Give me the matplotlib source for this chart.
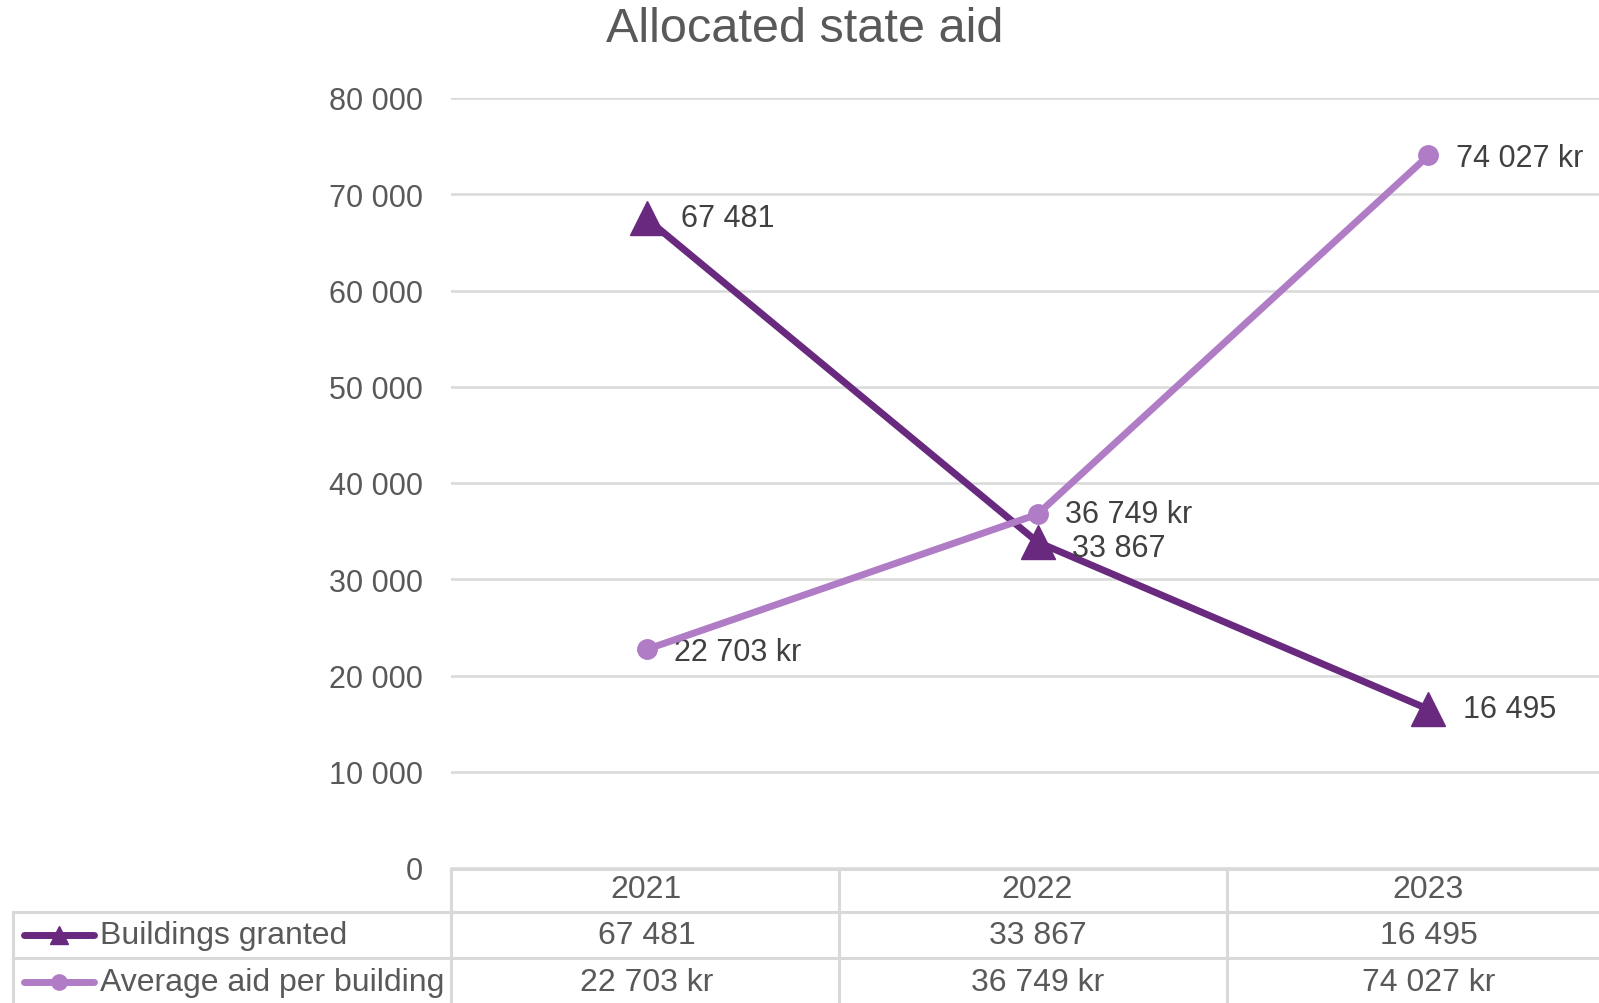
import matplotlib
matplotlib.use("Agg")
import matplotlib.pyplot as plt
import matplotlib.transforms as mtransforms
from matplotlib.lines import Line2D

# === Data ===
years = ["2021", "2022", "2023"]
buildings_granted = [67481, 33867, 16495]
avg_aid = [22703, 36749, 74027]
series_names = ["Buildings granted", "Average aid per building"]
y_ticks = [0, 10000, 20000, 30000, 40000, 50000, 60000, 70000, 80000]

# === Style ===
DARK = "#68297f"
LIGHT = "#b07cc6"
GRID = "#d9d9d9"
TEXT = "#595959"
FS = 22
FS_TABLE = 23
plt.rcParams["font.family"] = ["Liberation Sans", "DejaVu Sans"]

W, H = 1599, 1004


def fx(px):
    return px / W


def fy(py):
    return 1 - py / H


def fmt(v, unit=""):
    s = f"{v:,}".replace(",", " ")
    return s + unit


fig = plt.figure(figsize=(W / 100, H / 100), dpi=100)
ax_left, ax_top, ax_bottom = 451, 99, 869
cat_w = 391
ax = fig.add_axes([fx(ax_left), fy(ax_bottom), fx(3 * cat_w), (ax_bottom - ax_top) / H])

x = list(range(len(years)))
ax.plot(x, buildings_granted, color=DARK, lw=5, marker="^", ms=24, zorder=3,
        solid_capstyle="round", clip_on=False)
ax.plot(x, avg_aid, color=LIGHT, lw=5, marker="o", ms=14, zorder=4,
        solid_capstyle="round", clip_on=False)

# data labels
for xi, v in zip(x, buildings_granted):
    dy = -4 if xi == 1 else 0
    ax.annotate(fmt(v), (xi, v), xytext=(25, dy), textcoords="offset points",
                ha="left", va="center", fontsize=FS, color="#404040")
for xi, v in zip(x, avg_aid):
    ax.annotate(fmt(v, " kr"), (xi, v), xytext=(20, -2 if xi != 1 else 0),
                textcoords="offset points",
                ha="left", va="center", fontsize=FS, color="#404040")

ax.set_xlim(-0.5, 2.5)
ax.set_ylim(0, 80000)
ax.set_yticks(y_ticks)
ax.set_yticklabels([fmt(t) for t in y_ticks], fontsize=FS, color=TEXT)
ax.tick_params(axis="y", length=0, pad=20)
ax.set_xticks([])
ax.yaxis.grid(True, color=GRID, lw=1.8)
ax.set_axisbelow(True)
for s in ax.spines.values():
    s.set_visible(False)

fig.text(fx(805), fy(29), "Allocated state aid", ha="center", va="center",
         fontsize=35, color=TEXT)

# === Data table ===
bt = mtransforms.blended_transform_factory(ax.transData, fig.transFigure)
row_lines = [870, 913, 959]
for i, py in enumerate(row_lines):
    x0 = ax_left if i == 0 else 13
    fig.add_artist(Line2D([fx(x0), 1], [fy(py), fy(py)], color=GRID, lw=2.2))
for px in [ax_left, ax_left + cat_w - 3, ax_left + 2 * cat_w - 6]:
    fig.add_artist(Line2D([fx(px), fx(px)], [fy(870), 0], color=GRID, lw=2.2))
fig.add_artist(Line2D([fx(13), fx(13)], [fy(913), 0], color=GRID, lw=2.2))

row_y = [890, 936, 983]
for xi, yr in zip(x, years):
    fig.text(xi, fy(row_y[0]), yr, transform=bt, ha="center", va="center",
             fontsize=FS_TABLE, color=TEXT)
for xi, v in zip(x, buildings_granted):
    fig.text(xi, fy(row_y[1]), fmt(v), transform=bt, ha="center", va="center",
             fontsize=FS_TABLE, color=TEXT)
for xi, v in zip(x, avg_aid):
    fig.text(xi, fy(row_y[2]), fmt(v, " kr"), transform=bt, ha="center", va="center",
             fontsize=FS_TABLE, color=TEXT)

# legend keys inside table
keys = [(DARK, "^", 13), (LIGHT, "o", 11)]
for (col, mk, ms), name, py in zip(keys, series_names, row_y[1:]):
    fig.add_artist(Line2D([fx(24), fx(94)], [fy(py), fy(py)], color=col, lw=5,
                          solid_capstyle="round"))
    fig.add_artist(Line2D([fx(59)], [fy(py)], color=col, marker=mk, ms=ms, lw=0))
    fig.text(fx(100), fy(py), name, ha="left", va="center", fontsize=FS_TABLE,
             color=TEXT)

fig.savefig("out.png", dpi=100, facecolor="white")
